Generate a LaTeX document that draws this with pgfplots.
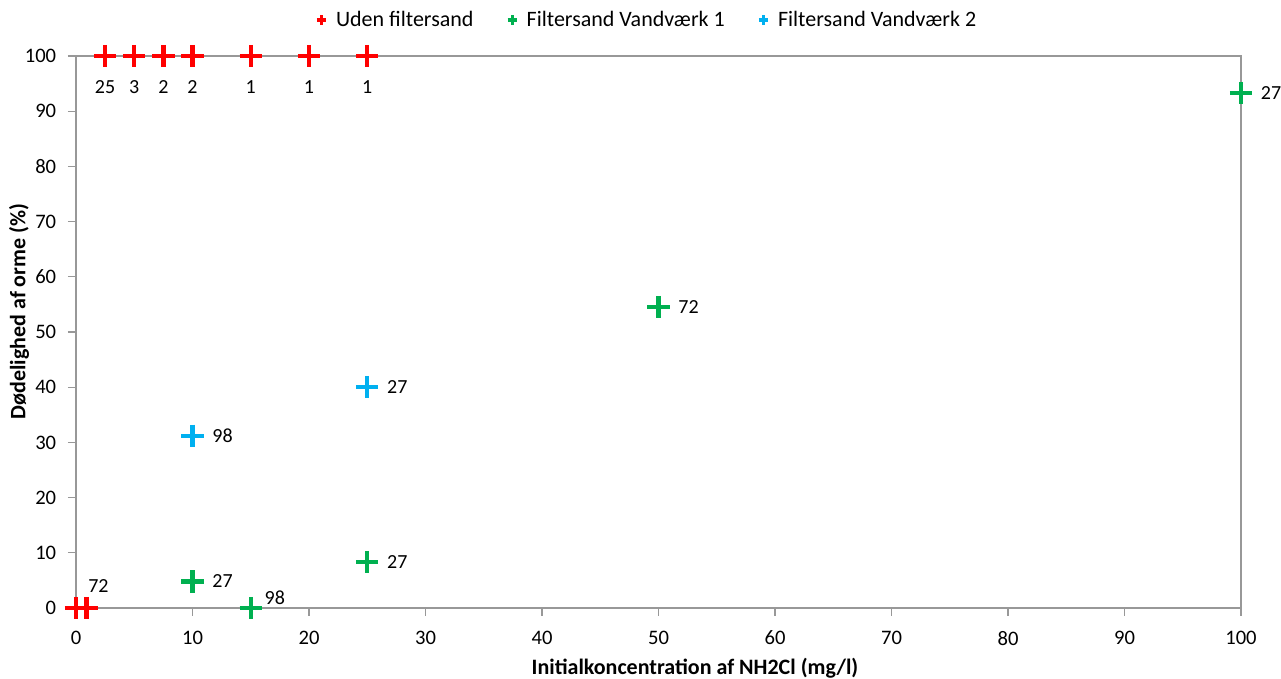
\documentclass[border=0pt]{standalone}
\usepackage{pgfplots}
\pgfplotsset{compat=1.18}
\usepackage{fontspec}
\setmainfont{Carlito}

\definecolor{xlred}{HTML}{FF0000}
\definecolor{xlgreen}{HTML}{00B050}
\definecolor{xlblue}{HTML}{00B0F0}
\definecolor{axisgray}{HTML}{989898}

\pgfplotsset{
  cross/.style={only marks, mark=+, mark size=5.6pt,
    mark options={line width=2.2pt, line cap=butt}},
  lbl/.style n args={2}{nodes near coords, point meta=explicit symbolic,
    every node near coord/.append style={anchor=center, xshift=#1, yshift=#2,
      font=\fontsize{10}{12}\selectfont, text=black}},
}

\begin{document}
\begin{tikzpicture}
\begin{axis}[
  scale only axis,
  width=582.5pt, height=276pt,
  xmin=0, xmax=100, ymin=0, ymax=100,
  xtick={0,10,...,100}, ytick={0,10,...,100},
  xtick pos=bottom, ytick pos=left,
  tick align=outside, major tick length=4pt,
  axis line style={draw=axisgray, line width=0.6pt},
  tick style={draw=axisgray, line width=0.6pt},
  tick label style={font=\fontsize{10.3}{12}\selectfont},
  /pgf/number format/assume math mode=true,
  xticklabel style={yshift=-4pt},
  yticklabel style={xshift=-2.4pt},
  xlabel={\textbf{Initialkoncentration af NH2Cl (mg/l)}},
  ylabel={\textbf{Dødelighed af orme (\%)}},
  every axis x label/.style={at={(axis description cs:0.5313,-0.1087)},
    anchor=center, font=\fontsize{11}{13}\selectfont},
  every axis y label/.style={at={(axis description cs:-0.0489,0.537)},
    anchor=center, rotate=90, font=\fontsize{11}{13}\selectfont},
  clip=false,
  legend style={at={(0.491,1)}, anchor=center, yshift=18pt, draw=none,
    legend columns=3, font=\fontsize{11}{13}\selectfont,
    inner sep=0pt,
    nodes={inner sep=1.5pt},
    /tikz/every odd column/.append style={column sep=3.5pt},
    /tikz/every even column/.append style={column sep=15.5pt}},
  legend image code/.code={\draw[#1, mark size=2.3pt, mark options={line width=1.6pt}]
    plot coordinates {(0pt,0pt)};},
]
% Without filter sand
\addplot[cross, xlred, lbl={0pt}{-15.5pt}] coordinates {
  (2.5,100) [25] (5,100) [3] (7.5,100) [2] (10,100) [2]
  (15,100) [1] (20,100) [1] (25,100) [1]};
\addlegendentry{Uden filtersand}
% Filter sand, waterworks 1
\addplot[cross, xlgreen, lbl={15pt}{0pt}] coordinates {
  (10,4.8) [27] (25,8.3) [27] (50,54.5) [72] (100,93.3) [27]};
\addlegendentry{Filtersand Vandværk 1}
% Filter sand, waterworks 2
\addplot[cross, xlblue, lbl={15pt}{0pt}] coordinates {
  (10,31.2) [98] (25,40) [27]};
\addlegendentry{Filtersand Vandværk 2}
\addplot[cross, xlgreen, lbl={12pt}{5pt}, forget plot] coordinates {
  (15,0) [98]};
\addplot[cross, xlred, lbl={6pt}{11pt}, forget plot] coordinates {
  (0,0) [] (0.9,0) [72]};
\end{axis}
\pgfresetboundingbox
\path (-38pt,-35.5pt) rectangle (602.5pt,304pt);
\end{tikzpicture}
\end{document}
